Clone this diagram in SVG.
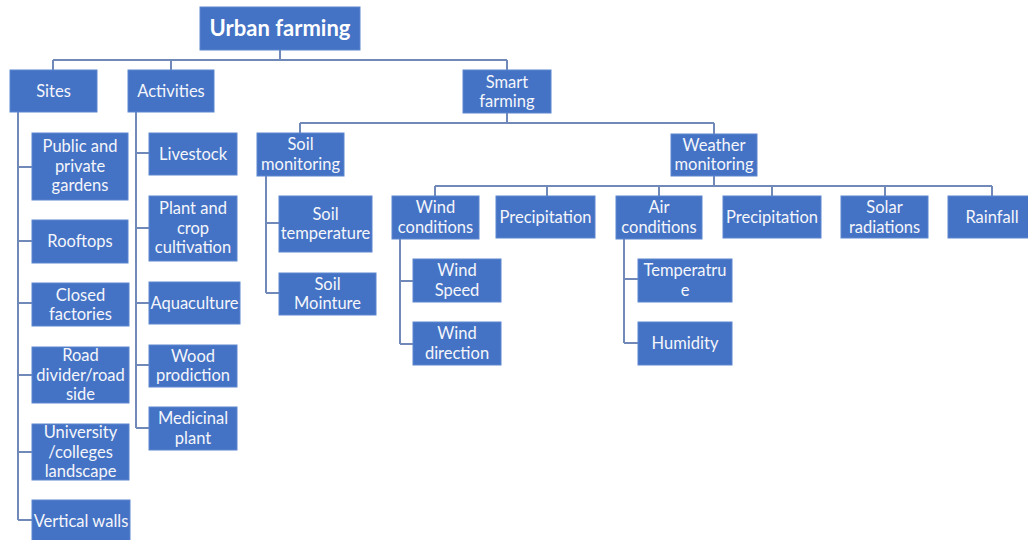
<svg xmlns="http://www.w3.org/2000/svg" width="1028" height="540" viewBox="0 0 1028 540">
  <style>
    .box { fill: #4472c4; stroke: #5d86cf; stroke-width: 1; }
    .lbl { font-family: Lato, "Liberation Sans", sans-serif; font-size: 16.5px; fill: #f4f6fb; text-anchor: middle; }
    .title { font-family: Lato, "Liberation Sans", sans-serif; font-size: 22px; font-weight: bold; fill: #ffffff; text-anchor: middle; }
    .wire { fill: none; stroke: #7089b8; stroke-width: 2; }
  </style>
  <rect width="1028" height="540" fill="#ffffff"/>

  <!-- connectors -->
  <g id="connectors" class="wire">
    <path d="M280 50 V60 M53 60 H507 M53 60 V70 M171 60 V70 M507 60 V70"/>
    <path d="M507 113 V123 M300 123 H714 M300 123 V133 M714 123 V134"/>
    <path d="M714 176 V186 M435 186 H992 M435 186 V196 M547 186 V196 M659 186 V196 M772 186 V196 M885 186 V196 M992 186 V196"/>
    <path d="M18 112 V520 M18 167 H32 M18 241 H32 M18 303 H32 M18 375 H32 M18 452 H32 M18 520 H32"/>
    <path d="M136 112 V428 M136 153 H149 M136 228 H149 M136 303 H149 M136 365 H149 M136 428 H149"/>
    <path d="M266 176 V293 M266 223 H279 M266 293 H279"/>
    <path d="M400 239 V344 M400 281 H413 M400 344 H413"/>
    <path d="M624 239 V343 M624 279 H638 M624 343 H638"/>
  </g>

  <!-- root -->
  <g id="urban-farming">
    <rect class="box" x="200" y="7" width="160" height="43"/>
    <text class="title" x="280" y="36">Urban farming</text>
  </g>

  <!-- first level -->
  <g id="sites">
    <rect class="box" x="10" y="70" width="87" height="42"/>
    <text class="lbl" x="53.5" y="97">Sites</text>
  </g>
  <g id="activities">
    <rect class="box" x="128" y="70" width="86" height="42"/>
    <text class="lbl" x="171" y="97">Activities</text>
  </g>
  <g id="smart-farming">
    <rect class="box" x="463" y="70" width="88" height="43"/>
    <text class="lbl" x="507" y="87.5">Smart<tspan x="507" dy="19.5">farming</tspan></text>
  </g>

  <!-- sites -->
  <g id="gardens">
    <rect class="box" x="32" y="133" width="96" height="67"/>
    <text class="lbl" x="80" y="152">Public and<tspan x="80" dy="19.5">private</tspan><tspan x="80" dy="19.5">gardens</tspan></text>
  </g>
  <g id="rooftops">
    <rect class="box" x="32" y="220" width="96" height="43"/>
    <text class="lbl" x="80" y="247">Rooftops</text>
  </g>
  <g id="closed-factories">
    <rect class="box" x="32" y="283" width="97" height="43"/>
    <text class="lbl" x="80.5" y="300.5">Closed<tspan x="80.5" dy="19.5">factories</tspan></text>
  </g>
  <g id="road-side">
    <rect class="box" x="32" y="347" width="97" height="56"/>
    <text class="lbl" x="80.5" y="361">Road<tspan x="80.5" dy="19.5">divider/road</tspan><tspan x="80.5" dy="19.5">side</tspan></text>
  </g>
  <g id="university">
    <rect class="box" x="32" y="424" width="97" height="56"/>
    <text class="lbl" x="80.5" y="438">University<tspan x="80.5" dy="19.5">/colleges</tspan><tspan x="80.5" dy="19.5">landscape</tspan></text>
  </g>
  <g id="vertical-walls">
    <rect class="box" x="32" y="500" width="98" height="44"/>
    <text class="lbl" x="81" y="527">Vertical walls</text>
  </g>

  <!-- activities -->
  <g id="livestock">
    <rect class="box" x="149" y="133" width="88" height="42"/>
    <text class="lbl" x="193" y="160">Livestock</text>
  </g>
  <g id="plant-crop">
    <rect class="box" x="149" y="196" width="88" height="65"/>
    <text class="lbl" x="193" y="214">Plant and<tspan x="193" dy="19.5">crop</tspan><tspan x="193" dy="19.5">cultivation</tspan></text>
  </g>
  <g id="aquaculture">
    <rect class="box" x="149" y="282" width="91" height="42"/>
    <text class="lbl" x="194.5" y="309">Aquaculture</text>
  </g>
  <g id="wood">
    <rect class="box" x="149" y="345" width="88" height="42"/>
    <text class="lbl" x="193" y="361.5">Wood<tspan x="193" dy="19.5">prodiction</tspan></text>
  </g>
  <g id="medicinal">
    <rect class="box" x="149" y="407" width="88" height="43"/>
    <text class="lbl" x="193" y="424">Medicinal<tspan x="193" dy="19.5">plant</tspan></text>
  </g>

  <!-- smart farming branches -->
  <g id="soil-monitoring">
    <rect class="box" x="257" y="133" width="87" height="43"/>
    <text class="lbl" x="300.5" y="150">Soil<tspan x="300.5" dy="19.5">monitoring</tspan></text>
  </g>
  <g id="weather-monitoring">
    <rect class="box" x="671" y="134" width="86" height="42"/>
    <text class="lbl" x="714" y="150.5">Weather<tspan x="714" dy="19.5">monitoring</tspan></text>
  </g>
  <g id="soil-temperature">
    <rect class="box" x="279" y="196" width="93" height="56"/>
    <text class="lbl" x="325.5" y="219.5">Soil<tspan x="325.5" dy="19.5">temperature</tspan></text>
  </g>
  <g id="soil-mointure">
    <rect class="box" x="279" y="273" width="97" height="42"/>
    <text class="lbl" x="327.5" y="289.5">Soil<tspan x="327.5" dy="19.5">Mointure</tspan></text>
  </g>

  <!-- weather branches -->
  <g id="wind-conditions">
    <rect class="box" x="392" y="196" width="87" height="43"/>
    <text class="lbl" x="435.5" y="213">Wind<tspan x="435.5" dy="19.5">conditions</tspan></text>
  </g>
  <g id="precipitation-1">
    <rect class="box" x="496" y="196" width="99" height="42"/>
    <text class="lbl" x="545.5" y="223">Precipitation</text>
  </g>
  <g id="air-conditions">
    <rect class="box" x="616" y="196" width="86" height="43"/>
    <text class="lbl" x="659" y="213">Air<tspan x="659" dy="19.5">conditions</tspan></text>
  </g>
  <g id="precipitation-2">
    <rect class="box" x="723" y="196" width="98" height="42"/>
    <text class="lbl" x="772" y="223">Precipitation</text>
  </g>
  <g id="solar-radiations">
    <rect class="box" x="841" y="196" width="87" height="42"/>
    <text class="lbl" x="884.5" y="213">Solar<tspan x="884.5" dy="19.5">radiations</tspan></text>
  </g>
  <g id="rainfall">
    <rect class="box" x="948" y="196" width="88" height="42"/>
    <text class="lbl" x="992" y="223">Rainfall</text>
  </g>

  <!-- wind and air details -->
  <g id="wind-speed">
    <rect class="box" x="413" y="259" width="88" height="43"/>
    <text class="lbl" x="457" y="276">Wind<tspan x="457" dy="19.5">Speed</tspan></text>
  </g>
  <g id="wind-direction">
    <rect class="box" x="413" y="322" width="88" height="43"/>
    <text class="lbl" x="457" y="339">Wind<tspan x="457" dy="19.5">direction</tspan></text>
  </g>
  <g id="temperature">
    <rect class="box" x="638" y="259" width="94" height="43"/>
    <text class="lbl" x="685" y="276">Temperatru<tspan x="685" dy="19.5">e</tspan></text>
  </g>
  <g id="humidity">
    <rect class="box" x="638" y="322" width="94" height="43"/>
    <text class="lbl" x="685" y="349">Humidity</text>
  </g>
</svg>
